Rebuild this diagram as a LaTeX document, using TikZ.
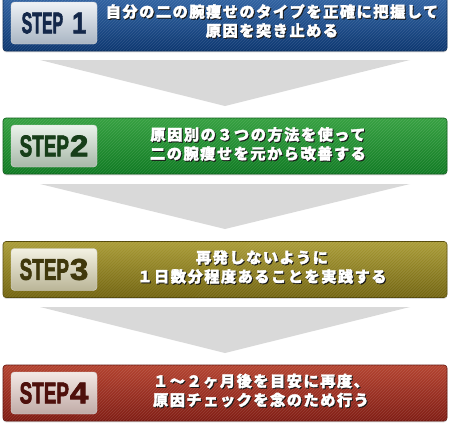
\documentclass[tikz,border=0pt]{standalone}
\usepackage{fontspec}
\usetikzlibrary{shadows}
\newfontfamily\jpf{Noto Sans CJK JP}[LetterSpace=10,FakeBold=2.2]
\newfontfamily\stepf{Liberation Sans}[FakeBold=2.5]
\definecolor{txtshadow}{HTML}{1A1A1A}
\definecolor{b1t}{HTML}{3366A5}\definecolor{b1b}{HTML}{0C3670}\definecolor{b1d}{HTML}{0A2A55}
\definecolor{b2t}{HTML}{35A040}\definecolor{b2b}{HTML}{0F7A22}\definecolor{b2d}{HTML}{0B5A18}
\definecolor{b3t}{HTML}{A99B36}\definecolor{b3b}{HTML}{72640F}\definecolor{b3d}{HTML}{564B0A}
\definecolor{b4t}{HTML}{B4422F}\definecolor{b4b}{HTML}{7F1B12}\definecolor{b4d}{HTML}{5E120B}
\definecolor{l1t}{HTML}{EEF2F6}\definecolor{l1b}{HTML}{A9B5C3}\definecolor{s1}{HTML}{14284A}
\definecolor{l2t}{HTML}{EAF2EA}\definecolor{l2b}{HTML}{A7B8A8}\definecolor{s2}{HTML}{173E19}
\definecolor{l3t}{HTML}{F3F1E2}\definecolor{l3b}{HTML}{BAB597}\definecolor{s3}{HTML}{40380C}
\definecolor{l4t}{HTML}{F3E8E5}\definecolor{l4b}{HTML}{C0ABA6}\definecolor{s4}{HTML}{4E100C}
\definecolor{arrc}{HTML}{D9D9D9}
\newcommand\shtxt[1]{\rlap{\kern1pt\raisebox{-1pt}{\textcolor{txtshadow}{#1}}}#1}
\newcommand\steplab[4]{\scalebox{#1}[1]{STEP}\hspace{#2}\scalebox{#3}[1]{#4}}
\newcommand\stripes[3]{%
  \begin{scope}
    \clip[rounded corners=3pt] (3,#2) rectangle (447,#3);
    \foreach \i in {-60,-57,...,447}
      \draw[white, opacity=0.12, line width=0.7pt] (\i,#3) -- ++(56,-56);
  \end{scope}}
\begin{document}
\begin{tikzpicture}[x=1pt,y=-1pt,
  box/.style={rounded corners=3pt, minimum width=444pt, minimum height=56pt,
    inner sep=0pt, draw=#1, line width=0.6pt,
    drop shadow={shadow xshift=0pt, shadow yshift=-1.3pt, opacity=0.3}},
  lab/.style={rounded corners=3.5pt, minimum width=86pt, minimum height=42pt,
    inner sep=0pt, draw=white!85!black, line width=0.4pt,
    font=\stepf\bfseries\fontsize{30}{30}\selectfont},
  jt/.style={align=center, text=white, inner sep=0pt,
    font=\jpf\bfseries\fontsize{15.2}{19}\selectfont},
  arr/.style={fill=arrc}]
\clip (0,0) rectangle (450,423);
\useasboundingbox (0,0) rectangle (450,423);
% boxes
\node[box=b1d, top color=b1t, bottom color=b1b] (b1) at (225,23) {};
\node[box=b2d, top color=b2t, bottom color=b2b] (b2) at (225,146) {};
\node[box=b3d, top color=b3t, bottom color=b3b] (b3) at (225,269.5) {};
\node[box=b4d, top color=b4t, bottom color=b4b] (b4) at (225,393) {};
\stripes{b1}{-5}{51}
\stripes{b2}{118}{174}
\stripes{b3}{241.5}{297.5}
\stripes{b4}{365}{421}
% labels
\node[lab, top color=l1t, bottom color=l1b, text=s1] (l1) at (54,23) {\steplab{0.53}{9pt}{0.85}{1}\hspace{4pt}};
\node[lab, top color=l2t, bottom color=l2b, text=s2] (l2) at (54,146) {\steplab{0.63}{1pt}{1.1}{2}\hspace{3pt}};
\node[lab, top color=l3t, bottom color=l3b, text=s3] (l3) at (54,269.5) {\steplab{0.63}{1pt}{1.1}{3}\hspace{3pt}};
\node[lab, top color=l4t, bottom color=l4b, text=s4] (l4) at (54,393) {\steplab{0.63}{1pt}{1.1}{4}\hspace{3pt}};
% texts
\node[jt] (t1) at (272,21.5) {\shtxt{自分の二の腕痩せのタイプを正確に把握して}\\\shtxt{原因を突き止める}};
\node[jt] (t2) at (258,144.5) {\shtxt{原因別の３つの方法を使って}\\\shtxt{二の腕痩せを元から改善する}};
\node[jt] (t3) at (262,267.5) {\shtxt{再発しないように}\\\shtxt{１日数分程度あることを実践する}};
\node[jt] (t4) at (261,391) {\shtxt{１～２ヶ月後を目安に再度、}\\\shtxt{原因チェックを念のため行う}};
% arrows
\coordinate (a1l) at (40,60);  \coordinate (a1r) at (410,60);  \coordinate (a1c) at (225,106);
\coordinate (a2l) at (40,184); \coordinate (a2r) at (410,184); \coordinate (a2c) at (225,229);
\coordinate (a3l) at (40,307); \coordinate (a3r) at (410,307); \coordinate (a3c) at (225,353);
\fill[arr] (a1l) -- (a1r) -- (a1c) -- cycle;
\fill[arr] (a2l) -- (a2r) -- (a2c) -- cycle;
\fill[arr] (a3l) -- (a3r) -- (a3c) -- cycle;
\end{tikzpicture}
\end{document}
